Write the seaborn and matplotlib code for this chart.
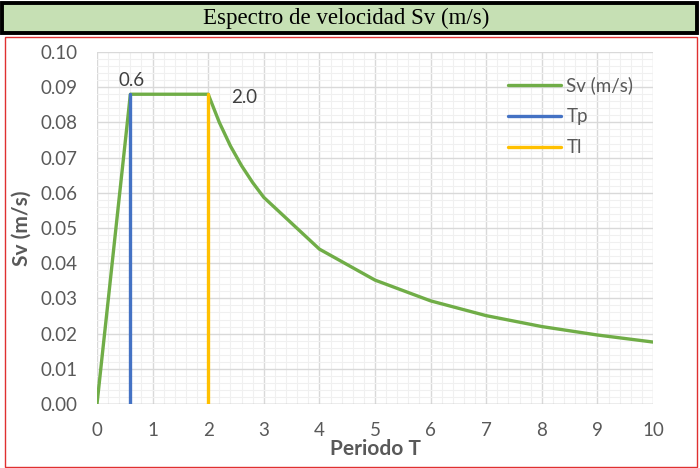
import pandas as pd
import seaborn as sns
import matplotlib.pyplot as plt
from matplotlib.patches import Rectangle
from matplotlib.ticker import MultipleLocator

# datos
periodo = [0, 0.1, 0.2, 0.3, 0.4, 0.5, 0.6, 0.8, 1.0, 1.2, 1.4, 1.6, 1.8, 2.0,
           2.2, 2.4, 2.6, 2.8, 3, 4, 5, 6, 7, 8, 9, 10]
sv = [0, 0.0147, 0.0293, 0.044, 0.0587, 0.0733, 0.088, 0.088, 0.088, 0.088, 0.088,
      0.088, 0.088, 0.088, 0.080, 0.0733, 0.0677, 0.0629, 0.0587, 0.044, 0.0352,
      0.0293, 0.0251, 0.022, 0.0196, 0.0176]
tp_x = [0.6, 0.6]
tp_y = [0, 0.088]
tl_x = [2.0, 2.0]
tl_y = [0, 0.088]

sns.set_theme(style="white")
plt.rcParams['font.family'] = ['Lato', 'DejaVu Sans']

fig = plt.figure(figsize=(7, 4.68), dpi=100)
ax = fig.add_axes([97 / 700, 1 - 404 / 468, 556 / 700, 352 / 468])

sns.lineplot(x=periodo, y=sv, ax=ax, color='#70AD47', lw=2.4, sort=False,
             estimator=None, label='Sv (m/s)')
sns.lineplot(x=tp_x, y=tp_y, ax=ax, color='#4472C4', lw=2.4, sort=False,
             estimator=None, label='Tp')
sns.lineplot(x=tl_x, y=tl_y, ax=ax, color='#FFC000', lw=2.4, sort=False,
             estimator=None, label='Tl')

ax.set_xlim(0, 10)
ax.set_ylim(0, 0.10)
ax.xaxis.set_major_locator(MultipleLocator(1))
ax.xaxis.set_minor_locator(MultipleLocator(0.2))
ax.yaxis.set_major_locator(MultipleLocator(0.01))
ax.yaxis.set_minor_locator(MultipleLocator(0.002))
ax.yaxis.set_major_formatter(plt.FuncFormatter(lambda v, p: f'{v:.2f}'))
ax.grid(which='major', color='#D9D9D9', lw=1.0)
ax.grid(which='minor', color='#F0F0F0', lw=0.8)
ax.set_axisbelow(True)
for s in ax.spines.values():
    s.set_visible(False)
ax.axhline(0, color='#BFBFBF', lw=1.0, zorder=1)
ax.tick_params(which='both', length=0, labelsize=13.5, colors='#595959')
ax.tick_params(axis='y', pad=14)
ax.tick_params(axis='x', pad=13)

ax.set_xlabel('Periodo T', fontsize=15, fontweight='bold', color='#595959', labelpad=0)
ax.set_ylabel('Sv (m/s)', fontsize=15, fontweight='bold', color='#595959', labelpad=6)

# etiquetas de Tp y Tl
ax.text(0.63, 0.092, '0.6', fontsize=13.5, color='#404040', ha='center', va='center')
ax.text(2.65, 0.0872, '2.0', fontsize=13.5, color='#404040', ha='center', va='center')

leg = ax.legend(loc='upper left', bbox_to_anchor=(0.723, 0.958), frameon=False, borderpad=0,
                fontsize=13.5, handlelength=2.8, labelspacing=0.75, handletextpad=0.3)
for t in leg.get_texts():
    t.set_color('#595959')

# barra de título y marco rojo
fig.patches.append(Rectangle((1.5 / 700, 1 - 33 / 468), 695 / 700, 30 / 468, transform=fig.transFigure,
                             facecolor='#C6E0B4', edgecolor='black', lw=2.8, zorder=0))
fig.patches.append(Rectangle((5 / 700, 1.5 / 468), 692 / 700, 430 / 468, transform=fig.transFigure,
                             facecolor='none', edgecolor='#E03030', lw=1.0, zorder=0))
fig.text(0.495, 1 - 18 / 468, 'Espectro de velocidad Sv (m/s)', ha='center', va='center',
         fontsize=16.5, family='Liberation Serif', color='black')

fig.savefig('out.png', dpi=100)
